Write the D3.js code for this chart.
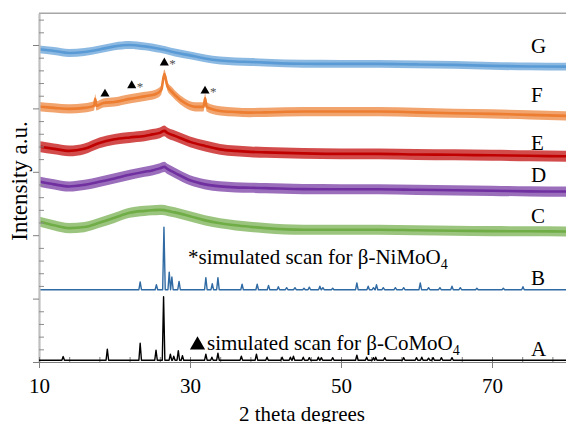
<!DOCTYPE html>
<html>
<head>
<meta charset="utf-8">
<script src="https://cdn.jsdelivr.net/npm/d3@7"></script>
<style>
  html, body { margin: 0; padding: 0; background: #ffffff; }
  svg { display: block; }
  text { font-family: "Liberation Serif", "Times New Roman", serif; }
</style>
</head>
<body>
<script>
// ---------------- DATA ----------------
// x positions (2 theta, degrees) of the measured scans C, D, E, G
const scanX = [10,12,14,16,18,20,22,24,25,26,26.6,27,28,30,32,34,36,38,40,45,50,55,60,65,70,75,80];
// mean intensity (a.u., offset) of each measured scan
const scanG = [24.66,24.53,24.37,24.45,24.65,24.89,25.00,24.89,24.80,24.69,24.62,24.56,24.41,24.18,23.94,23.78,23.70,23.66,23.61,23.52,23.51,23.51,23.47,23.43,23.35,23.31,23.29];
const scanE = [16.99,16.81,16.65,16.81,17.28,17.56,17.71,17.83,17.95,18.07,18.23,18.07,17.83,17.36,17.04,16.77,16.65,16.57,16.53,16.45,16.41,16.41,16.37,16.34,16.30,16.26,16.22];
const scanD = [14.23,14.01,13.84,13.97,14.21,14.48,14.76,15.00,15.11,15.27,15.39,15.23,14.92,14.33,14.01,13.85,13.77,13.74,13.71,13.63,13.62,13.62,13.58,13.54,13.50,13.46,13.44];
const scanC = [11.08,10.78,10.56,10.64,10.98,11.37,11.77,11.92,11.97,12.00,11.98,11.92,11.80,11.49,11.17,10.94,10.78,10.66,10.56,10.43,10.43,10.43,10.39,10.35,10.32,10.31,10.29];
// scan F has sharp reflections, so it has its own x positions
const scanFX = [10,12,14,16,17.3,17.45,17.6,18.5,20,22,24,25.5,26.2,26.6,27,27.5,28,29.3,30.7,31.8,32,32.2,34,36,38,40,45,50,55,60,65,70,75,80];
const scanF = [20.14,20.04,19.96,20.04,20.20,20.75,20.20,20.43,20.51,20.75,20.95,21.14,21.46,22.70,21.77,21.38,21.06,20.43,20.12,20.12,20.80,20.12,19.80,19.72,19.67,19.69,19.75,19.75,19.75,19.69,19.62,19.57,19.49,19.41];
// noise spread (half width, a.u.) of each measured scan
const noiseG = 0.31, noiseF = 0.36, noiseE = 0.43, noiseD = 0.40, noiseC = 0.40;

// simulated scan B (beta-NiMoO4): baseline and [position, peak height]
const simBBase = 5.70;
const simBPeaks = [[23.4,0.61],[25.55,0.39],[26.55,4.94],[27.25,1.39],[27.6,1.00],[28.55,0.65],[32.1,0.95],[32.95,0.47],[33.7,0.95],[36.9,0.43],[38.9,0.43],[40.4,0.34],[41.7,0.24],[42.8,0.16],[43.9,0.16],[45.1,0.12],[45.8,0.20],[47.2,0.28],[47.6,0.16],[48.9,0.12],[52.1,0.53],[53.6,0.28],[54.3,0.16],[54.7,0.39],[55.6,0.16],[57.2,0.16],[58.3,0.16],[60.5,0.53],[61.6,0.16],[63.1,0.16],[64.7,0.28],[65.8,0.16],[68.0,0.12],[71.5,0.12],[74.1,0.24]];
// simulated scan A (beta-CoMoO4)
const simABase = 0.14;
const simAPeaks = [[13.2,0.29],[19.05,0.87],[23.4,1.34],[25.5,0.79],[26.5,5.01],[27.4,0.47],[27.85,0.32],[28.45,0.76],[29.0,0.35],[32.1,0.47],[32.9,0.24],[33.7,0.55],[36.8,0.32],[38.8,0.47],[40.2,0.24],[42.2,0.24],[43.3,0.24],[43.7,0.32],[45.0,0.24],[45.8,0.20],[47.0,0.24],[47.4,0.20],[48.9,0.20],[52.1,0.39],[53.4,0.24],[54.3,0.20],[54.6,0.24],[55.8,0.20],[58.3,0.20],[60.0,0.20],[60.7,0.24],[61.6,0.16],[62.2,0.20],[63.3,0.20],[64.7,0.20]];

// markers on scan F: [2theta, intensity, has asterisk]
const markersF = [[18.74,21.14,false],[22.28,21.80,true],[26.6,23.59,true],[31.99,21.38,true]];

// axis ticks
const xTickLabels = [10,30,50,70];
const xMinorTicks = [10,14,18,22,26,30,34,38,42,46,50,54,58,62,66,70,74,78];
const yMajorTicks = [0,5,10,15,20,25];
const yMinorTicks = [1,2,3,4,6,7,8,9,11,12,13,14,16,17,18,19,21,22,23,24,26,27];

const seriesLabels = ["G","F","E","D","C","B","A"];

// ---------------- DRAWING ----------------
const W = 566, H = 422;
const svg = d3.select("body").append("svg").attr("width", W).attr("height", H);

const x = d3.scaleLinear().domain([10, 80]).range([39, 567.5]);
const y = d3.scaleLinear().domain([0, 27.5]).range([362, 13.3]);

// top border
svg.append("line").attr("x1", x(10)).attr("x2", W).attr("y1", y(27.5)).attr("y2", y(27.5))
  .attr("stroke", "#a6a6a6").attr("stroke-width", 1.5);

// measured scans as noise bands
const scans = [
  {xs: scanX,  ys: scanC, n: noiseC, color: "#70ad47"},
  {xs: scanX,  ys: scanD, n: noiseD, color: "#7030a0"},
  {xs: scanX,  ys: scanE, n: noiseE, color: "#c00000"},
  {xs: scanFX, ys: scanF, n: noiseF, color: "#ed7d31"},
  {xs: scanX,  ys: scanG, n: noiseG, color: "#5b9bd5"}
];
scans.forEach(s => {
  const pts = s.xs.map((v, i) => [v, s.ys[i]]);
  const area = d3.area().x(d => x(d[0])).y0(d => y(d[1] - s.n)).y1(d => y(d[1] + s.n)).curve(d3.curveMonotoneX);
  const line = d3.line().x(d => x(d[0])).y(d => y(d[1])).curve(d3.curveMonotoneX);
  svg.append("path").attr("d", area(pts)).attr("fill", s.color).attr("fill-opacity", 0.7);
  svg.append("path").attr("d", line(pts)).attr("fill", "none").attr("stroke", s.color).attr("stroke-width", 2.6);
});

// simulated scans: baseline with narrow peaks
function stickPoints(base, peaks) {
  const hw = 0.17;
  const pts = [[10, base]];
  peaks.forEach(p => { pts.push([p[0] - hw, base], [p[0], base + p[1]], [p[0] + hw, base]); });
  pts.push([80, base]);
  return pts.sort((a, b) => a[0] - b[0]);
}
const simLine = d3.line().x(d => x(d[0])).y(d => y(d[1]));
svg.append("path").attr("d", simLine(stickPoints(simBBase, simBPeaks)))
  .attr("fill", "none").attr("stroke", "#2f6aa3").attr("stroke-width", 1.4).attr("stroke-linejoin", "round");

// axes
const gL = svg.append("g").attr("transform", `translate(${x(10)},0)`)
  .call(d3.axisLeft(y).tickValues(yMajorTicks).tickSizeInner(6).tickSizeOuter(0).tickFormat(""));
gL.select(".domain").attr("stroke", "#bfbfbf").attr("stroke-width", 2.2);
gL.selectAll(".tick line").attr("stroke", "#7f7f7f");
const gLm = svg.append("g").attr("transform", `translate(${x(10)},0)`)
  .call(d3.axisRight(y).tickValues(yMinorTicks).tickSizeInner(5).tickSizeOuter(0).tickFormat(""));
gLm.select(".domain").remove();
gLm.selectAll(".tick line").attr("stroke", "#8c8c8c");

const gB = svg.append("g").attr("transform", `translate(0,${y(0)})`)
  .call(d3.axisBottom(x).tickValues(xTickLabels).tickSizeInner(6).tickSizeOuter(0).tickPadding(10).tickFormat(d3.format("d")));
gB.select(".domain").attr("stroke", "#7f7f7f").attr("stroke-width", 1.2);
gB.selectAll(".tick line").attr("stroke", "#7f7f7f");
gB.selectAll(".tick text").attr("font-size", 21).style("font-family", "'Liberation Serif', 'Times New Roman', serif").attr("fill", "#000");
const gBm = svg.append("g").attr("transform", `translate(0,${y(0)})`)
  .call(d3.axisTop(x).tickValues(xMinorTicks).tickSizeInner(5).tickSizeOuter(0).tickFormat(""));
gBm.select(".domain").remove();
gBm.selectAll(".tick line").attr("stroke", "#7f7f7f");

// simulated scan A drawn over axis
svg.append("path").attr("d", simLine(stickPoints(simABase, simAPeaks)))
  .attr("fill", "none").attr("stroke", "#000").attr("stroke-width", 1.4).attr("stroke-linejoin", "round");

// markers on scan F
const tri = d3.symbol().type(d3.symbolTriangle).size(36);
markersF.forEach(m => {
  svg.append("path").attr("d", tri()).attr("transform", `translate(${x(m[0])},${y(m[1])})`).attr("fill", "#000");
  if (m[2]) {
    svg.append("text").attr("x", x(m[0]) + 5).attr("y", y(m[1]) + 5).attr("font-size", 13).attr("fill", "#505050").text("*");
  }
});

// series labels
const labelY = [53.3, 101.7, 150, 181.7, 223.3, 285, 355.7];
seriesLabels.forEach((t, i) => {
  svg.append("text").attr("x", 531).attr("y", labelY[i]).attr("font-size", 21).attr("fill", "#000").text(t);
});

// annotations
const tB = svg.append("text").attr("x", 188).attr("y", 264.3).attr("font-size", 21).attr("fill", "#000");
tB.append("tspan").text("*simulated scan for β-NiMoO");
tB.append("tspan").attr("font-size", 14).attr("dy", 5).text("4");
svg.append("path").attr("d", d3.symbol().type(d3.symbolTriangle).size(100)())
  .attr("transform", "translate(197.5,345)").attr("fill", "#000");
const tA = svg.append("text").attr("x", 207).attr("y", 350).attr("font-size", 21).attr("fill", "#000");
tA.append("tspan").text("simulated scan for β-CoMoO");
tA.append("tspan").attr("font-size", 14).attr("dy", 5).text("4");

// axis titles
svg.append("text").attr("x", 302).attr("y", 421).attr("text-anchor", "middle").attr("font-size", 21).attr("fill", "#000").text("2 theta degrees");
svg.append("text").attr("transform", "translate(27,181) rotate(-90)").attr("text-anchor", "middle").attr("font-size", 23).attr("fill", "#000").text("Intensity a.u.");
</script>
</body>
</html>
